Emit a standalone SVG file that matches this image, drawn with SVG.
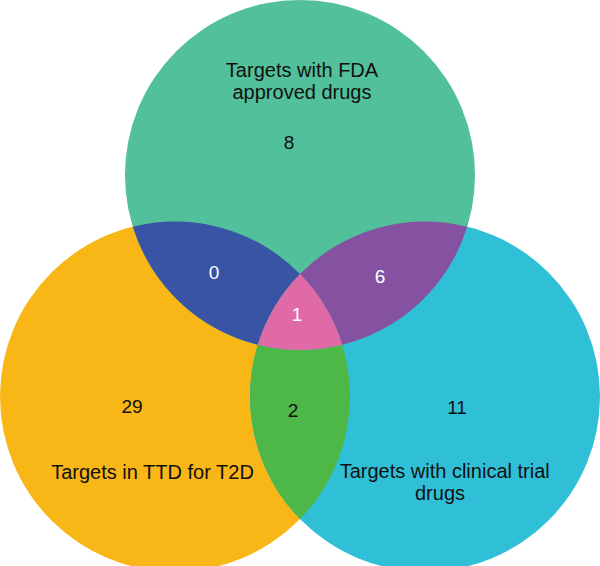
<svg xmlns="http://www.w3.org/2000/svg" width="600" height="566" viewBox="0 0 600 566">
<style>
.lbl{font-family:"Liberation Sans",Arial,sans-serif;font-size:20px;fill:#111;text-anchor:middle}
.num{font-family:"Liberation Sans",Arial,sans-serif;font-size:19px;fill:#111;text-anchor:middle}
.wnum{font-family:"Liberation Sans",Arial,sans-serif;font-size:19px;fill:#fff;text-anchor:middle}
</style>
<rect width="600" height="566" fill="#fff"/>
<g id="set-ttd"><circle cx="175" cy="396.5" r="175" fill="#F8B617"/></g>
<g id="set-clinical"><circle cx="425" cy="396.5" r="175" fill="#2FC0D8"/></g>
<g id="set-fda"><circle cx="300" cy="175" r="175" fill="#52C09B"/></g>
<g id="region-fda-ttd"><path d="M132.8 226.67 A175 175 0 0 1 300 274.03 A175 175 0 0 0 257.8 344.83 A175 175 0 0 1 132.8 226.67 Z" fill="#3953A5"/></g>
<g id="region-fda-clinical"><path d="M467.2 226.67 A175 175 0 0 0 300 274.03 A175 175 0 0 1 342.2 344.83 A175 175 0 0 0 467.2 226.67 Z" fill="#8452A1"/></g>
<g id="region-ttd-clinical"><path d="M257.8 344.83 A175 175 0 0 0 300 518.97 A175 175 0 0 0 342.2 344.83 A175 175 0 0 1 257.8 344.83 Z" fill="#4DB848"/></g>
<g id="region-all"><path d="M300 274.03 A175 175 0 0 1 342.2 344.83 A175 175 0 0 1 257.8 344.83 A175 175 0 0 1 300 274.03 Z" fill="#E06AA8"/></g>
<g id="labels">
<text class="lbl" x="302" y="77">Targets with FDA</text>
<text class="lbl" x="302" y="99">approved drugs</text>
<text class="num" x="289" y="149">8</text>
<text class="wnum" x="214" y="279">0</text>
<text class="wnum" x="380" y="283">6</text>
<text class="wnum" x="297" y="321">1</text>
<text class="num" x="132" y="413">29</text>
<text class="num" x="293" y="417">2</text>
<text class="num" x="457" y="414">11</text>
<text class="lbl" x="152.5" y="479">Targets in TTD for T2D</text>
<text class="lbl" x="444.7" y="478">Targets with clinical trial</text>
<text class="lbl" x="440" y="500">drugs</text>
</g>
</svg>
